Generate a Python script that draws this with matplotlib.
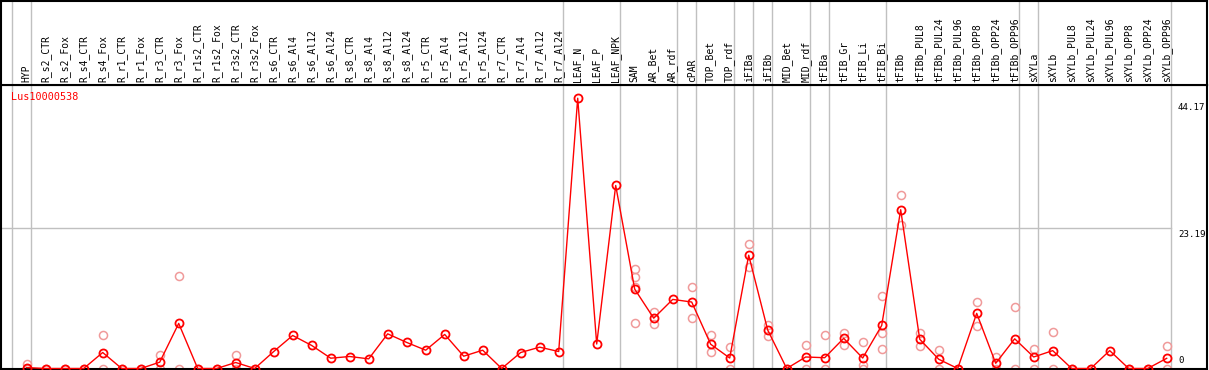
import matplotlib
matplotlib.use('Agg')
import matplotlib.pyplot as plt
import matplotlib.transforms as mtransforms

labels = ['HYP', 'R_s2_CTR', 'R_s2_Fox', 'R_s4_CTR', 'R_s4_Fox', 'R_r1_CTR', 'R_r1_Fox',
          'R_r3_CTR', 'R_r3_Fox', 'R_r1s2_CTR', 'R_r1s2_Fox', 'R_r3s2_CTR', 'R_r3s2_Fox',
          'R_s6_CTR', 'R_s6_Al4', 'R_s6_Al12', 'R_s6_Al24', 'R_s8_CTR', 'R_s8_Al4',
          'R_s8_Al12', 'R_s8_Al24', 'R_r5_CTR', 'R_r5_Al4', 'R_r5_Al12', 'R_r5_Al24',
          'R_r7_CTR', 'R_r7_Al4', 'R_r7_Al12', 'R_r7_Al24', 'LEAF_N', 'LEAF_P', 'LEAF_NPK',
          'SAM', 'AR_Bet', 'AR_rdf', 'cPAR', 'TOP_Bet', 'TOP_rdf', 'iFIBa', 'iFIBb',
          'MID_Bet', 'MID_rdf', 'tFIBa', 'tFIB_Gr', 'tFIB_Li', 'tFIB_Bi', 'tFIBb',
          'tFIBb_PUL8', 'tFIBb_PUL24', 'tFIBb_PUL96', 'tFIBb_OPP8', 'tFIBb_OPP24',
          'tFIBb_OPP96', 'sXYLa', 'sXYLb', 'sXYLb_PUL8', 'sXYLb_PUL24', 'sXYLb_PUL96',
          'sXYLb_OPP8', 'sXYLb_OPP24', 'sXYLb_OPP96']

means = [0.15, 0, 0, 0, 2.64, 0, 0, 1.04, 7.44, 0, 0, 0.99, 0,
         2.8, 5.45, 3.8, 1.7, 1.98, 1.59, 5.72, 4.3, 3.02, 5.62, 2.03, 3.02,
         0, 2.64, 3.52, 2.8, 44.6, 4.04, 30.2,
         13.1, 8.3, 11.4, 10.97, 4.0, 1.73, 18.7, 6.35,
         0, 1.9, 1.78, 4.98, 1.73, 7.1, 26.2,
         4.84, 1.53, 0, 9.1, 0.86, 4.9,
         1.9, 2.95, 0, 0, 2.95, 0, 0, 1.68]

# individual replicates (light markers)
reps = [[0.7, 0], [0], [0], [0], [5.45, 0], [0], [0], [2.3, 0], [15.3, 0], [0], [0], [2.3, 0], [0],
        [], [], [], [], [], [], [], [], [], [], [], [],
        [], [], [], [], [], [], [],
        [16.4, 15.1, 13.4, 7.5], [9.4, 7.3], [], [13.5, 8.3], [5.5, 2.7], [3.6, 0], [20.5, 16.8], [7.1, 5.4],
        [0], [3.8, 0], [5.6, 0], [5.9, 3.8], [4.45, 0.6, 0], [12.0, 5.9, 3.3], [28.7, 23.7],
        [5.94, 3.7], [3.1, 0], [0], [10.97, 7.0], [1.9, 0], [10.2, 0],
        [3.2, 0], [6.07, 0], [0], [0], [], [0], [0], [3.7, 0]]

separators = [-1, 0, 28, 31, 34, 35, 37, 38, 39, 41, 42, 45, 52, 53, 60]
gene = 'Lus10000538'
ymax_label = 44.17
ymid_label = 23.19

W, H = 1209, 370
fig = plt.figure(figsize=(W / 100, H / 100), dpi=100)

left = 1 / W
width = 1206 / W
bottom = 1.5 / H
top_plot = 85 / H
ax = fig.add_axes([left, bottom, width, 1 - top_plot - bottom])
hx = fig.add_axes([left, 1 - top_plot, width, top_plot - 1 / H], sharex=ax)

xs = list(range(len(labels)))
xlo = (1 - 26.7) / 19
xhi = (1207 - 26.7) / 19
ax.set_xlim(xlo, xhi)
ax.set_ylim(0, 46.78)
hx.set_ylim(0, 1)

gray = '#c0c0c0'
for s in separators:
    ax.axvline(s + 0.21, color=gray, lw=1, zorder=1)
    hx.axvline(s + 0.21, color=gray, lw=1, zorder=1)
ax.plot([xlo, separators[-1] + 0.21], [ymid_label, ymid_label], color=gray, lw=1, zorder=1)

for i, r in enumerate(reps):
    if r:
        ax.plot([i] * len(r), r, linestyle='none', marker='o', markersize=5.8,
                markerfacecolor='none', markeredgecolor='#f09a9a', mew=1.1,
                clip_on=False, zorder=2)

ax.plot(xs, means, color='red', lw=1, marker='o', markersize=5.8,
        markerfacecolor='none', markeredgecolor='red', mew=1.3, clip_on=False, zorder=3)

for sp in ax.spines.values():
    sp.set_color('black')
    sp.set_linewidth(1.5)
for sp in hx.spines.values():
    sp.set_color('black')
    sp.set_linewidth(1.5)
ax.set_xticks([])
ax.set_yticks([])
hx.tick_params(left=False, bottom=False, labelleft=False, labelbottom=False)

mono = 'DejaVu Sans Mono'
for i, lab in enumerate(labels):
    hx.text(i, 0.03, lab, rotation=90, ha='center', va='bottom', fontsize=7, family=mono)

ax.text(10 / 1206, 1 - 12 / 283.5, gene, transform=ax.transAxes, color='red',
        fontsize=7.3, family=mono, va='center', ha='left')

tr = mtransforms.blended_transform_factory(ax.transAxes, ax.transData)
xr = (1178 - 1) / 1206
ax.text(xr, ymax_label - 0.3, '%.2f' % ymax_label, transform=tr, fontsize=6.6, family=mono,
        ha='left', va='top')
ax.text(xr, ymid_label - 0.3, '%.2f' % ymid_label, transform=tr, fontsize=6.6, family=mono,
        ha='left', va='top')
ax.text(xr, 0.6, '0', transform=tr, fontsize=6.6, family=mono, ha='left', va='bottom')

fig.savefig('out.png', dpi=100)
